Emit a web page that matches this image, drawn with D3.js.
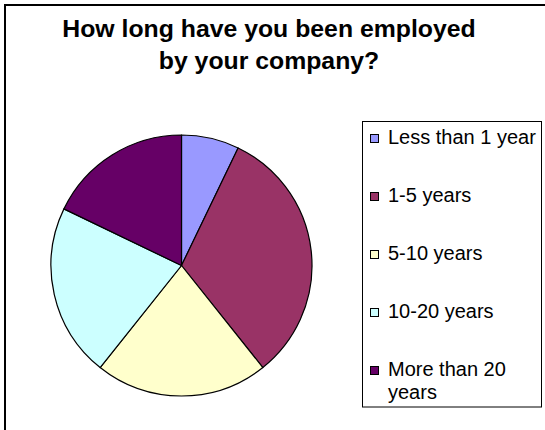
<!DOCTYPE html>
<html>
<head>
<meta charset="utf-8">
<script src="https://cdn.jsdelivr.net/npm/d3@7"></script>
<style>
  html, body { margin: 0; padding: 0; background: #fff; }
  svg { display: block; }
  text { font-family: Arial, "Liberation Sans", sans-serif; }
</style>
</head>
<body>
<svg id="chart" width="545" height="430"></svg>
<script>
const titleLines = ["How long have you been employed", "by your company?"];
const categories = ["Less than 1 year", "1-5 years", "5-10 years", "10-20 years", "More than 20 years"];
const values = [2, 9, 6, 6, 5];
const colors = ["#9999FF", "#993366", "#FFFFCC", "#CCFFFF", "#660066"];

const svg = d3.select("#chart");
const W = 545, H = 430;

// chart area border (extends past right/bottom edges)
svg.append("rect")
  .attr("x", 5).attr("y", 5)
  .attr("width", W + 20).attr("height", H + 20)
  .attr("fill", "#fff").attr("stroke", "#000").attr("stroke-width", 2);

// title
const title = svg.append("text")
  .attr("x", 269).attr("y", 37)
  .attr("text-anchor", "middle")
  .attr("font-size", "24.8px").attr("font-weight", "bold").attr("fill", "#000");
titleLines.forEach((t, i) => {
  title.append("tspan").attr("x", 269).attr("y", 37 + i * 32).text(t);
});

// pie
const cx = 181.5, cy = 265.5, r = 130.5;
const data = categories.map((c, i) => ({ cat: c, value: values[i], color: colors[i] }));
const pie = d3.pie().value(d => d.value).sort(null);
const arc = d3.arc().innerRadius(0).outerRadius(r);
svg.append("g").attr("transform", `translate(${cx},${cy})`)
  .selectAll("path").data(pie(data)).join("path")
  .attr("d", arc)
  .attr("fill", d => d.data.color)
  .attr("stroke", "#000").attr("stroke-width", 1.2)
  .attr("stroke-linejoin", "round");

// legend
const lg = svg.append("g");
lg.append("rect")
  .attr("x", 362.5).attr("y", 121.5)
  .attr("width", 179).attr("height", 285.5)
  .attr("fill", "#fff").attr("stroke", "#000").attr("stroke-width", 1);

const rowY = d3.scalePoint().domain(categories).range([144, 376]);
const maxW = 150;
data.forEach(d => {
  const by = rowY(d.cat);
  lg.append("rect")
    .attr("x", 370.5).attr("y", by - 9.5)
    .attr("width", 8).attr("height", 8)
    .attr("fill", d.color).attr("stroke", "#000").attr("stroke-width", 1);
  const t = lg.append("text")
    .attr("x", 388).attr("y", by)
    .attr("font-size", "20px").attr("fill", "#000");
  // word wrap
  const words = d.cat.split(" ");
  let line = [];
  let ts = t.append("tspan").attr("x", 388).attr("y", by);
  let lineNo = 0;
  words.forEach(w => {
    line.push(w);
    ts.text(line.join(" "));
    if (ts.node().getComputedTextLength() > maxW && line.length > 1) {
      line.pop();
      ts.text(line.join(" "));
      line = [w];
      lineNo++;
      ts = t.append("tspan").attr("x", 388).attr("y", by + lineNo * 22.5).text(w);
    }
  });
});
</script>
</body>
</html>
